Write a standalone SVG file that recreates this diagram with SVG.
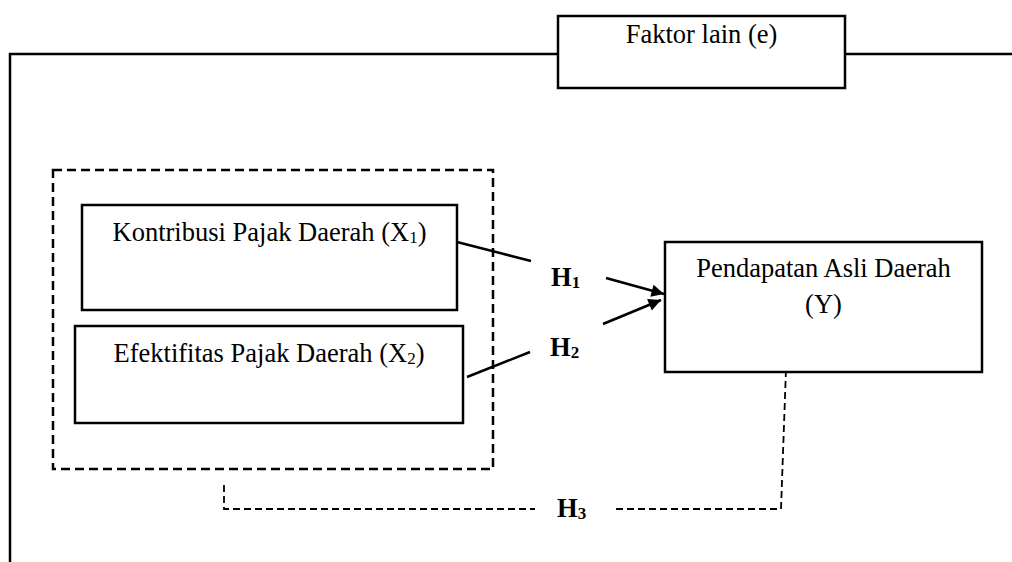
<svg xmlns="http://www.w3.org/2000/svg" width="1012" height="562" viewBox="0 0 1012 562">
<style>
.box{fill:#fff;stroke:#000;stroke-width:2.5}
.ln{fill:none;stroke:#000;stroke-width:2.5}
.dash{fill:none;stroke:#000;stroke-width:2.5;stroke-dasharray:9 5}
.dash2{fill:none;stroke:#000;stroke-width:1.8;stroke-dasharray:7 4}
.t{font-family:"Liberation Serif","Times New Roman",serif;font-size:26.5px;fill:#000;text-anchor:middle}
.h{font-family:"Liberation Serif","Times New Roman",serif;font-size:26.5px;font-weight:bold;fill:#000}
.sub{font-size:17px}
</style>
<defs>
<marker id="arr" viewBox="0 0 10 10" refX="10" refY="5" markerWidth="6" markerHeight="5" markerUnits="strokeWidth" orient="auto">
<path d="M0,0 L10,5 L0,10 z" fill="#000"/>
</marker>
</defs>
<g id="connectors">
<polyline class="ln" points="558,54 10,54 10,562"/>
<line class="ln" x1="845" y1="54" x2="1012" y2="54"/>
<line class="ln" x1="457" y1="242" x2="531" y2="261"/>
<line class="ln" x1="467" y1="377" x2="530" y2="352"/>
<line class="ln" x1="606" y1="278" x2="664" y2="294" marker-end="url(#arr)"/>
<line class="ln" x1="603" y1="324" x2="661" y2="300" marker-end="url(#arr)"/>
<polyline class="dash2" points="224,485 224,509 535,509"/>
<polyline class="dash2" points="616,509 781,509 786,369"/>
</g>
<g id="group-x">
<rect class="dash" x="53" y="170" width="440" height="299"/>
</g>
<g id="faktor">
<rect class="box" x="558" y="16" width="287" height="72"/>
<text class="t" x="701.5" y="43">Faktor lain (e)</text>
</g>
<g id="x1">
<rect class="box" x="82" y="205" width="375" height="105"/>
<text class="t" x="269.5" y="241">Kontribusi Pajak Daerah (X<tspan class="sub" dy="2">1</tspan><tspan dy="-2">)</tspan></text>
</g>
<g id="x2">
<rect class="box" x="75" y="326" width="388" height="97"/>
<text class="t" x="269" y="362">Efektifitas Pajak Daerah (X<tspan class="sub" dy="2">2</tspan><tspan dy="-2">)</tspan></text>
</g>
<g id="y">
<rect class="box" x="665" y="242" width="317" height="130"/>
<text class="t" x="823.5" y="277">Pendapatan Asli Daerah</text>
<text class="t" x="823.5" y="313">(Y)</text>
</g>
<g id="labels">
<text class="h" x="551" y="286">H<tspan class="sub" dy="2">1</tspan></text>
<text class="h" x="550" y="356">H<tspan class="sub" dy="2">2</tspan></text>
<text class="h" x="557" y="517">H<tspan class="sub" dy="2">3</tspan></text>
</g>
</svg>
